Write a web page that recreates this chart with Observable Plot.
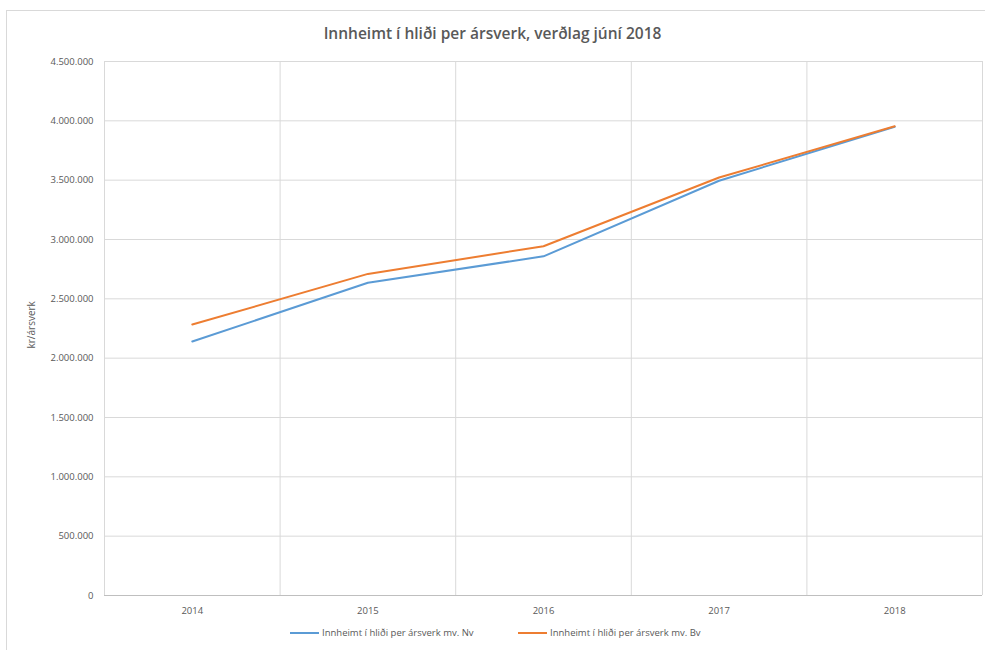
<!DOCTYPE html>
<html>
<head>
<meta charset="utf-8">
<script src="https://cdn.jsdelivr.net/npm/d3@7"></script>
<script src="https://cdn.jsdelivr.net/npm/@observablehq/plot@0.6"></script>
<style>
  body { margin: 0; background: #fff; font-family: "Open Sans", "Noto Sans", sans-serif; }
  #chart { position: relative; width: 985px; height: 650px; overflow: hidden; }
  #frame { position: absolute; left: 6px; top: 10px; width: 1200px; height: 1200px; border-left: 1px solid #d9d9d9; border-top: 1px solid #d9d9d9; }
  #title { position: absolute; left: 0; top: 22px; width: 985px; text-align: center; font-size: 15.5px; font-weight: 600; color: #595959; }
  #plot { position: absolute; left: 0; top: 54px; }
  #legend { position: absolute; top: 626px; left: 0; width: 985px; font-size: 9.5px; color: #595959; }
  .lg { position: absolute; display: flex; align-items: center; white-space: nowrap; }
  .sw { display: inline-block; width: 29px; height: 2px; margin-right: 3px; }
</style>
</head>
<body>
<div id="chart">
  <div id="frame"></div>
  <div id="title">Innheimt í hliði per ársverk, verðlag júní 2018</div>
  <div id="plot"></div>
  <div id="legend"></div>
</div>
<script>
const years = [2014, 2015, 2016, 2017, 2018];
const seriesNv = [2140000, 2636000, 2858000, 3495000, 3950000];
const seriesBv = [2283000, 2710000, 2943000, 3522000, 3955000];
const seriesNames = ["Innheimt í hliði per ársverk mv. Nv", "Innheimt í hliði per ársverk mv. Bv"];
const colors = ["#5B9BD5", "#ED7D31"];
const yTicks = [0, 500000, 1000000, 1500000, 2000000, 2500000, 3000000, 3500000, 4000000, 4500000];

const data = [];
years.forEach((yr, i) => {
  data.push({year: yr, value: seriesNv[i], series: seriesNames[0]});
  data.push({year: yr, value: seriesBv[i], series: seriesNames[1]});
});
const boundaries = years.map(y => y - 0.5).concat([years[years.length - 1] + 0.5]);

const locale = d3.formatLocale({decimal: ",", thousands: ".", grouping: [3], currency: ["", " kr"]});
const fmt = locale.format(",d");

const chart = Plot.plot({
  width: 985,
  height: 572,
  marginLeft: 104,
  marginRight: 3,
  marginTop: 7,
  marginBottom: 31,
  style: {fontFamily: "Open Sans, Noto Sans, sans-serif", fontSize: "9.5px", color: "#595959", background: "transparent"},
  x: {domain: [years[0] - 0.5, years[years.length - 1] + 0.5], ticks: years, tickFormat: d => String(d), tickSize: 0, tickPadding: 12, label: null},
  y: {domain: [0, 4500000], ticks: yTicks, tickFormat: fmt, tickSize: 0, tickPadding: 11, label: null},
  color: {domain: seriesNames, range: colors},
  marks: [
    Plot.ruleY(yTicks, {stroke: "#d9d9d9", strokeWidth: 1}),
    Plot.ruleX(boundaries, {stroke: "#d9d9d9", strokeWidth: 1}),
    Plot.ruleY([0], {stroke: "#bfbfbf", strokeWidth: 1}),
    Plot.axisX({ticks: years, tickFormat: d => String(d), tickSize: 0, tickPadding: 12, fill: "#595959"}),
    Plot.axisY({ticks: yTicks, tickFormat: fmt, tickSize: 0, tickPadding: 11, fill: "#595959"}),
    Plot.line(data, {x: "year", y: "value", z: "series", stroke: "series", strokeWidth: 2, curve: "linear"}),
    Plot.text(["kr/ársverk"], {frameAnchor: "left", dx: -73, dy: 20, rotate: -90, fontSize: 10, fill: "#595959"})
  ]
});
document.getElementById("plot").appendChild(chart);

const legend = document.getElementById("legend");
const lefts = [290, 518];
seriesNames.forEach((name, i) => {
  const d = document.createElement("div");
  d.className = "lg";
  d.style.left = lefts[i] + "px";
  d.innerHTML = `<span class="sw" style="background:${colors[i]}"></span><span>${name}</span>`;
  legend.appendChild(d);
});
</script>
</body>
</html>
